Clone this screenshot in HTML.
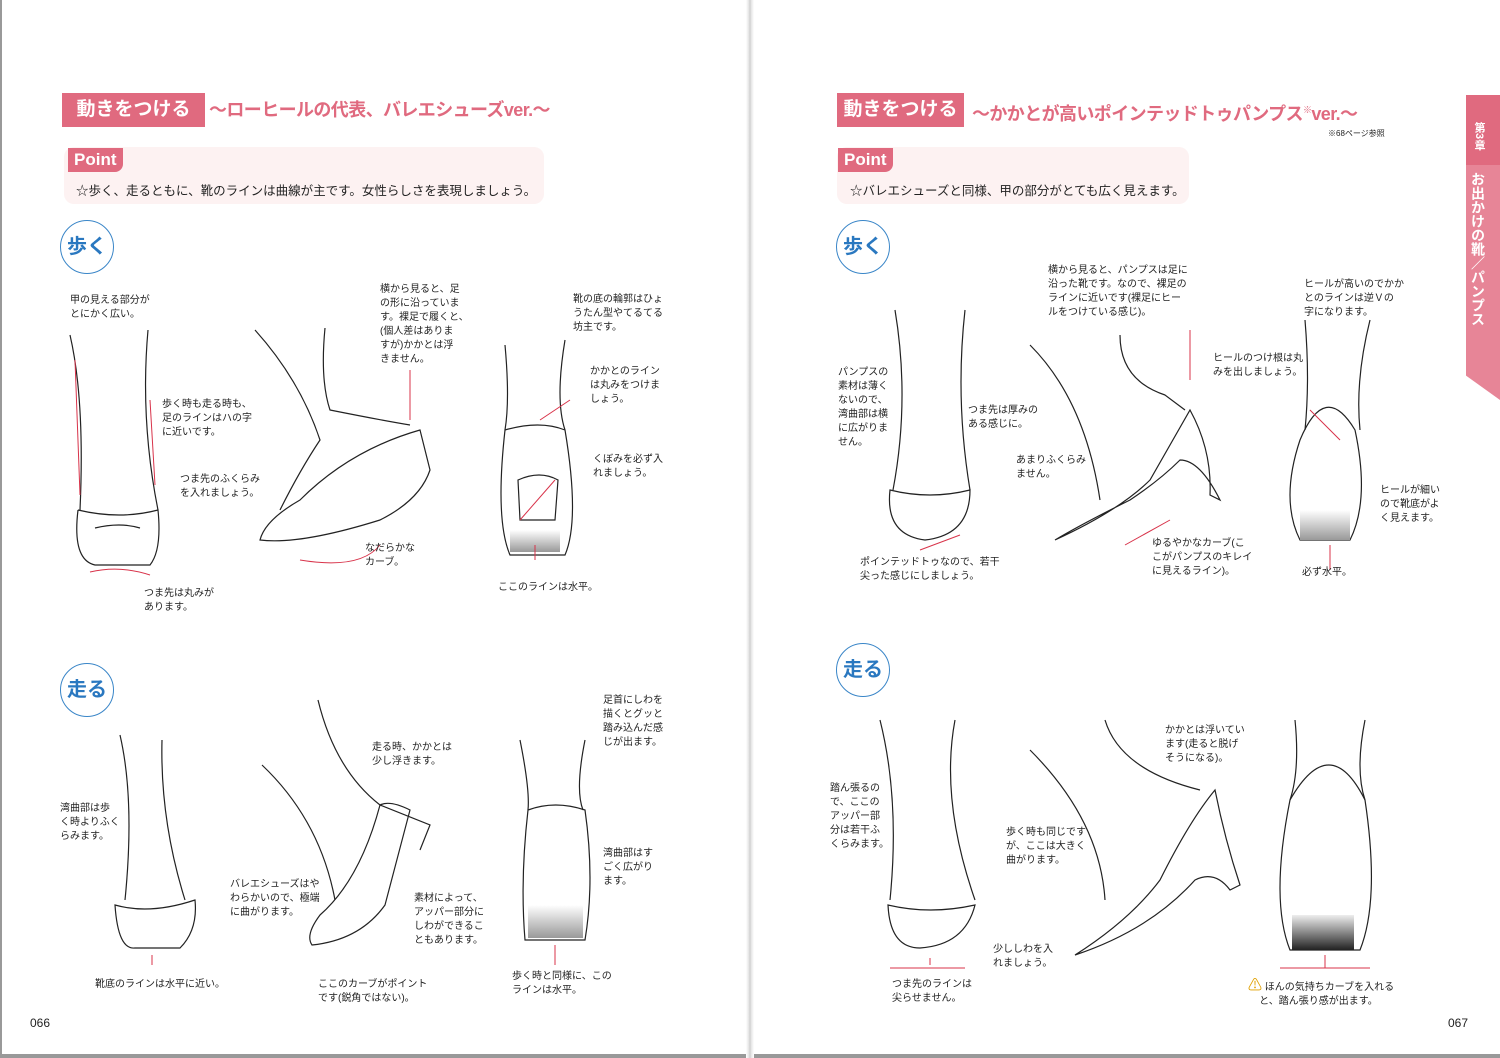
<!DOCTYPE html>
<html><head><meta charset="utf-8"><style>
body{margin:0;width:1500px;height:1058px;position:relative;background:#fff;overflow:hidden;font-family:"Liberation Sans","Noto Sans CJK JP",sans-serif;color:#222}
.a{position:absolute;font-size:10px;line-height:14px;white-space:nowrap}
.hb{position:absolute;background:#e06a7f;color:#fff;font-weight:bold;font-size:19px;line-height:34px;text-align:center}
.ht{position:absolute;color:#e06a7f;font-weight:bold;font-size:18px;line-height:34px;white-space:nowrap;letter-spacing:-0.6px}
.pt{position:absolute;background:#fdf2f2;border-radius:10px}
.pl{position:absolute;background:#e06a7f;color:#fff;font-weight:bold;font-size:17px;line-height:24px;padding:0 6px;border-radius:0 0 8px 0}
.ptx{position:absolute;font-size:12.5px;white-space:nowrap}
.c{position:absolute;width:52px;height:52px;border:1.5px solid #3a86c8;border-radius:50%;color:#2a78c0;font-weight:bold;font-size:20px;line-height:52px;text-align:center}
</style></head><body>
<div style="position:absolute;left:0;top:0;width:2px;height:1058px;background:#999"></div>
<div style="position:absolute;left:0;top:1054px;width:1500px;height:4px;background:#999"></div>
<div style="position:absolute;left:746px;top:0;width:8px;height:1058px;background:linear-gradient(90deg,#fff,#ddd 45%,#bbb 50%,#ddd 55%,#fff)"></div>

<div class="hb" style="left:62px;top:93px;width:143px">動きをつける</div>
<div class="ht" style="left:209px;top:93px">〜ローヒールの代表、バレエシューズver.〜</div>
<div class="pt" style="left:64px;top:147px;width:480px;height:57px"></div>
<div class="pl" style="left:68px;top:148px">Point</div>
<div class="ptx" style="left:76px;top:180px">☆歩く、走るともに、靴のラインは曲線が主です。女性らしさを表現しましょう。</div>
<div class="c" style="left:60px;top:220px">歩く</div>
<div class="c" style="left:60px;top:663px">走る</div>

<div class="hb" style="left:837px;top:93px;width:127px">動きをつける</div>
<div class="ht" style="left:972px;top:93px">〜かかとが高いポインテッドトゥパンプス<sup style="font-size:9px">※</sup>ver.〜</div>
<div class="a" style="left:1328px;top:127px;font-size:8px">※68ページ参照</div>
<div class="pt" style="left:837px;top:147px;width:352px;height:57px"></div>
<div class="pl" style="left:838px;top:148px">Point</div>
<div class="ptx" style="left:850px;top:180px">☆バレエシューズと同様、甲の部分がとても広く見えます。</div>
<div class="c" style="left:836px;top:220px">歩く</div>
<div class="c" style="left:836px;top:643px">走る</div>

<div style="position:absolute;left:1466px;top:95px;width:34px;height:305px;background:#e78597;clip-path:polygon(0 0,100% 0,100% 100%,0 92%)"></div>
<div style="position:absolute;left:1466px;top:95px;width:34px;height:70px;background:#e06a7f"></div>
<div class="a" style="left:1472px;top:122px;color:#fff;font-weight:bold;writing-mode:vertical-rl;font-size:11px">第3章</div>
<div class="a" style="left:1470px;top:172px;color:#fff;font-weight:bold;writing-mode:vertical-rl;font-size:14px;line-height:16px">お出かけの靴／パンプス</div>

<div class="a" style="left:30px;top:1016px;font-size:12px">066</div>
<div class="a" style="left:1448px;top:1016px;font-size:12px">067</div>

<svg width="1500" height="1058" style="position:absolute;left:0;top:0" fill="none" stroke="#222" stroke-width="1.2">
<defs>
<linearGradient id="g1" x1="0" y1="0" x2="0" y2="1"><stop offset="0" stop-color="#fff"/><stop offset="1" stop-color="#999"/></linearGradient>
<linearGradient id="g2" x1="0" y1="0" x2="0" y2="1"><stop offset="0" stop-color="#eee"/><stop offset="1" stop-color="#222"/></linearGradient>
</defs>
<path d="M70 335 Q85 400 80 510 M148 330 Q140 420 158 510"/>
<path d="M78 510 Q72 560 95 565 L150 565 Q162 550 158 510 Q120 520 78 510"/>
<path d="M95 528 Q120 522 140 528"/>
<path d="M255 330 Q300 380 320 440 Q300 470 280 510 M325 328 Q320 380 330 410 Q380 420 410 425"/>
<path d="M260 540 Q300 545 380 520 Q420 500 430 470 L420 430 Q350 450 300 500 Q265 520 260 540Z"/>
<path d="M505 345 Q510 400 505 430 M565 340 Q555 400 565 430"/>
<path d="M505 430 Q495 520 510 555 L565 555 Q580 520 565 430 Q540 420 505 430Z"/>
<path d="M518 480 Q540 470 558 480 L555 520 L520 520Z"/>
<rect x="510" y="530" width="50" height="22" fill="url(#g1)" stroke="none"/>
<path d="M120 735 Q135 800 125 900 M162 740 Q160 820 185 900"/>
<path d="M115 905 Q118 950 135 948 L180 948 Q198 930 195 900 Q150 915 115 905Z"/>
<path d="M262 765 Q320 820 335 900 M318 700 Q335 770 380 805 L430 825 L420 850"/>
<path d="M312 945 Q360 940 385 905 L410 810 Q390 800 380 805 Q360 880 320 915 Q305 935 312 945Z"/>
<path d="M520 740 Q530 790 528 810 M585 740 Q575 790 583 810"/>
<path d="M528 810 Q520 880 525 940 L585 940 Q595 880 585 810 Q555 800 528 810Z"/>
<rect x="528" y="905" width="55" height="33" fill="url(#g1)" stroke="none"/>
<path d="M895 310 Q910 400 893 490 M965 310 Q955 400 970 490"/>
<path d="M890 490 Q885 535 925 540 Q970 535 970 490 Q930 500 890 490Z"/>
<path d="M1030 345 Q1085 400 1100 500 M1120 335 Q1120 380 1165 395 L1185 410"/>
<path d="M1055 540 Q1120 510 1150 480 L1190 410 Q1212 450 1210 495 L1220 500 Q1200 460 1180 460 Q1160 480 1130 500 Q1080 525 1055 540Z"/>
<path d="M1305 320 Q1310 380 1305 430 M1370 320 Q1355 380 1360 430"/>
<path d="M1300 440 Q1280 500 1300 540 L1350 540 Q1370 500 1355 430 Q1325 380 1300 440Z"/>
<rect x="1300" y="510" width="50" height="30" fill="url(#g1)" stroke="none"/>
<path d="M880 720 Q900 800 890 900 M955 720 Q940 800 975 900"/>
<path d="M888 905 Q890 948 920 948 Q965 945 975 905 Q930 915 888 905Z"/>
<path d="M1030 750 Q1100 820 1105 900 M1105 720 Q1120 770 1200 790"/>
<path d="M1075 955 Q1130 920 1160 880 Q1190 820 1215 790 Q1225 840 1240 885 L1230 890 Q1215 870 1195 880 Q1150 930 1075 955Z"/>
<path d="M1295 720 Q1300 770 1290 800 M1365 720 Q1355 770 1365 800"/>
<path d="M1290 800 Q1270 900 1290 950 L1360 950 Q1380 900 1365 800 Q1330 730 1290 800Z"/>
<rect x="1292" y="915" width="62" height="35" fill="url(#g2)" stroke="none"/>
<g stroke="#d8334a" stroke-width="1">
<path d="M75 360 L80 495 M150 400 L155 485 M90 572 Q120 565 150 575 M410 370 L410 420 M300 560 Q360 570 380 545 M540 420 L570 400 M520 520 L555 480 M535 560 L535 545 M920 550 L960 535 M1190 330 L1190 380 M1310 410 L1340 440 M1330 570 L1330 545 M1125 545 L1170 520 M1325 968 L1325 955 M1280 968 L1370 968 M930 965 L930 958 M890 968 L965 968 M152 965 L152 955 M555 965 L555 945"/>
</g>
</svg>

<div class="a" style="left:70px;top:294px">甲の見える部分が<br>とにかく広い。</div>
<div class="a" style="left:162px;top:398px">歩く時も走る時も、<br>足のラインはハの字<br>に近いです。</div>
<div class="a" style="left:180px;top:473px">つま先のふくらみ<br>を入れましょう。</div>
<div class="a" style="left:144px;top:587px">つま先は丸みが<br>あります。</div>
<div class="a" style="left:380px;top:283px">横から見ると、足<br>の形に沿っていま<br>す。裸足で履くと、<br>(個人差はありま<br>すが)かかとは浮<br>きません。</div>
<div class="a" style="left:365px;top:542px">なだらかな<br>カーブ。</div>
<div class="a" style="left:573px;top:293px">靴の底の輪郭はひょ<br>うたん型やてるてる<br>坊主です。</div>
<div class="a" style="left:590px;top:365px">かかとのライン<br>は丸みをつけま<br>しょう。</div>
<div class="a" style="left:593px;top:453px">くぼみを必ず入<br>れましょう。</div>
<div class="a" style="left:498px;top:581px">ここのラインは水平。</div>
<div class="a" style="left:60px;top:802px">湾曲部は歩<br>く時よりふく<br>らみます。</div>
<div class="a" style="left:372px;top:741px">走る時、かかとは<br>少し浮きます。</div>
<div class="a" style="left:230px;top:878px">バレエシューズはや<br>わらかいので、極端<br>に曲がります。</div>
<div class="a" style="left:414px;top:892px">素材によって、<br>アッパー部分に<br>しわができるこ<br>ともあります。</div>
<div class="a" style="left:318px;top:978px">ここのカーブがポイント<br>です(鋭角ではない)。</div>
<div class="a" style="left:95px;top:978px">靴底のラインは水平に近い。</div>
<div class="a" style="left:603px;top:694px">足首にしわを<br>描くとグッと<br>踏み込んだ感<br>じが出ます。</div>
<div class="a" style="left:603px;top:847px">湾曲部はす<br>ごく広がり<br>ます。</div>
<div class="a" style="left:512px;top:970px">歩く時と同様に、この<br>ラインは水平。</div>

<div class="a" style="left:1048px;top:264px">横から見ると、パンプスは足に<br>沿った靴です。なので、裸足の<br>ラインに近いです(裸足にヒー<br>ルをつけている感じ)。</div>
<div class="a" style="left:1304px;top:278px">ヒールが高いのでかか<br>とのラインは逆Ｖの<br>字になります。</div>
<div class="a" style="left:1213px;top:352px">ヒールのつけ根は丸<br>みを出しましょう。</div>
<div class="a" style="left:838px;top:366px">パンプスの<br>素材は薄く<br>ないので、<br>湾曲部は横<br>に広がりま<br>せん。</div>
<div class="a" style="left:968px;top:404px">つま先は厚みの<br>ある感じに。</div>
<div class="a" style="left:1016px;top:454px">あまりふくらみ<br>ません。</div>
<div class="a" style="left:1380px;top:484px">ヒールが細い<br>ので靴底がよ<br>く見えます。</div>
<div class="a" style="left:1152px;top:537px">ゆるやかなカーブ(こ<br>こがパンプスのキレイ<br>に見えるライン)。</div>
<div class="a" style="left:860px;top:556px">ポインテッドトゥなので、若干<br>尖った感じにしましょう。</div>
<div class="a" style="left:1302px;top:566px">必ず水平。</div>
<div class="a" style="left:1165px;top:724px">かかとは浮いてい<br>ます(走ると脱げ<br>そうになる)。</div>
<div class="a" style="left:830px;top:782px">踏ん張るの<br>で、ここの<br>アッパー部<br>分は若干ふ<br>くらみます。</div>
<div class="a" style="left:1006px;top:826px">歩く時も同じです<br>が、ここは大きく<br>曲がります。</div>
<div class="a" style="left:993px;top:943px">少ししわを入<br>れましょう。</div>
<div class="a" style="left:892px;top:978px">つま先のラインは<br>尖らせません。</div>
<div class="a" style="left:1248px;top:978px"><span style="color:#e0a000;font-size:14px">⚠</span> ほんの気持ちカーブを入れる<br>&nbsp;&nbsp;&nbsp;&nbsp;と、踏ん張り感が出ます。</div>
</body></html>
